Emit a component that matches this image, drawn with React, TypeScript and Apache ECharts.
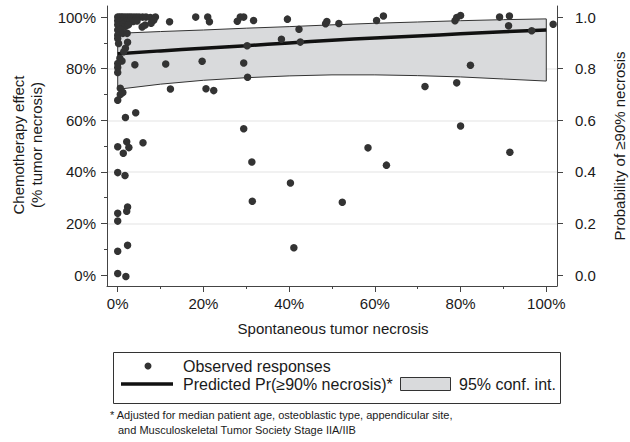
import React, { useEffect, useRef } from "react";
import * as echarts from "echarts";

// Observed responses: [spontaneous necrosis %, chemotherapy effect %]
const observed: number[][] = [
  [0, 100], [0.4, 100], [0.8, 100], [1.2, 100], [1.7, 100], [2.2, 100], [2.7, 100], [3.2, 100], [3.8, 100], [4.4, 100], [5.0, 100], [5.8, 100], [6.6, 100], [7.6, 99.8], [8.8, 100],
  [0, 98.6], [0.6, 98.4], [1.3, 98.6], [2.0, 98.4], [2.8, 98.6], [3.6, 98.3], [4.5, 98.5], [8.4, 98.8], [12.1, 98.2],
  [0, 97], [0.6, 96.6], [1.2, 97.2], [1.8, 96.4], [2.5, 97], [5.7, 96.2], [6.4, 96.9], [7.8, 97.6],
  [0, 95], [0.7, 95.2], [0, 93], [1.2, 93.7], [2.2, 93.7], [0, 91.7], [0.2, 89.8], [2.3, 90.2], [1.8, 87.9], [1.4, 86.6], [0.5, 84], [1, 83], [0, 82], [0, 80.5], [0, 78.5], [4, 81.5], [11.2, 81.8],
  [12.3, 72.1], [0.6, 72.4], [1.2, 70.8], [0.6, 70], [0, 67.8], [1.8, 61.1], [4.2, 62.9],
  [0, 49.7], [2.1, 51.7], [2.6, 49.4], [1.3, 47.2], [5.9, 51.3], [0, 39.7], [1.7, 38.6], [2.3, 26.4], [2.1, 24.7], [0, 23.9], [0, 20.9], [2.3, 11.5], [0, 9.2], [0, 0.6], [1.9, -0.6],
  [18.2, 100], [21, 100], [21.4, 98.2], [28.6, 100], [29.4, 100], [27.9, 98.4], [31.7, 98.7], [39.6, 99.2], [42.3, 95.3], [48.8, 98.3], [48.5, 97.4], [51.6, 97.5], [38.2, 91.4], [42.6, 90.3], [30.2, 88.9], [19.7, 82.9], [29.4, 82.2], [30.3, 76.7], [20.6, 72.2], [22.4, 71.5],
  [29.4, 56.7], [31.3, 43.8], [58.4, 49.3], [62.7, 42.6], [40.3, 35.7], [31.4, 28.6], [52.4, 28.2], [41.1, 10.6],
  [60.4, 98.7], [62, 100.4], [78.7, 98.6], [79.1, 99.8], [80, 100.6], [89.1, 100], [91.4, 100.4], [91.2, 96.6], [96.6, 94.7], [101.6, 97.2], [82.3, 81.3], [71.7, 73.1], [79.1, 74.5], [80, 57.8], [91.5, 47.6],
];

// Predicted probability curve (scaled to %), and its 95% CI
const curveX = [0, 10, 20, 30, 40, 50, 60, 70, 80, 90, 100];
const predicted = [85.8, 86.9, 87.9, 88.9, 90.0, 91.0, 91.9, 92.7, 93.5, 94.3, 95.0];
const ciUpper = [93.7, 94.4, 95.0, 95.7, 96.3, 97.0, 97.6, 98.1, 98.6, 99.0, 99.3];
const ciLower = [72.0, 74.0, 75.5, 76.5, 77.2, 77.6, 77.6, 77.3, 76.8, 76.0, 75.2];

const xTicks = [0, 20, 40, 60, 80, 100];
const yTicks = [0, 20, 40, 60, 80, 100];

const FONT = "Liberation Sans";
const TXT = "#1a1a1a";

export default function App() {
  const ref = useRef<HTMLDivElement>(null);
  useEffect(() => {
    if (!ref.current) return;
    const chart = echarts.init(ref.current, null, { renderer: "svg" });
    const yMin = -4.26;
    const yMax = 104.3;
    const bandPoly: number[][] = [
      ...curveX.map((x, i) => [x, ciUpper[i]]),
      ...curveX.map((x, i) => [x, ciLower[i]]).reverse(),
    ];
    const axisLineStyle = { color: "#444", width: 1 };
    chart.setOption({
      animation: false,
      grid: { left: 107, right: 73, top: 6, bottom: 156 },
      xAxis: {
        type: "value",
        min: -2.5,
        max: 102.5,
        splitNumber: 5,
        axisLine: { show: true, onZero: false, lineStyle: axisLineStyle },
        axisTick: { show: true, length: 6, lineStyle: { color: "#444" }, customValues: xTicks },
        minorTick: { show: true, splitNumber: 2, length: 3, lineStyle: { color: "#444" } },
        axisLabel: {
          customValues: xTicks,
          formatter: (v: number) => v + "%",
          fontFamily: FONT, fontSize: 15, color: TXT, margin: 10,
        },
        splitLine: { show: false },
      },
      yAxis: [
        {
          type: "value",
          min: yMin,
          max: yMax,
          splitNumber: 5,
          axisLine: { show: true, onZero: false, lineStyle: axisLineStyle },
          axisTick: { show: true, length: 6, lineStyle: { color: "#444" }, customValues: yTicks },
          minorTick: { show: true, splitNumber: 2, length: 3, lineStyle: { color: "#444" } },
          axisLabel: {
            customValues: yTicks,
            formatter: (v: number) => v + "%",
            fontFamily: FONT, fontSize: 15, color: TXT, margin: 11,
          },
          splitLine: { show: true, showMinLine: false, showMaxLine: false, lineStyle: { color: "#ececec", width: 1.5 } },
        },
        {
          type: "value",
          position: "right",
          min: yMin / 100,
          max: yMax / 100,
          splitNumber: 5,
          axisLine: { show: true, onZero: false, lineStyle: axisLineStyle },
          axisTick: { show: true, length: 6, lineStyle: { color: "#444" }, customValues: yTicks.map((v) => v / 100) },
          axisLabel: {
            customValues: yTicks.map((v) => v / 100),
            formatter: (v: number) => v.toFixed(1),
            fontFamily: FONT, fontSize: 15, color: TXT, margin: 18,
          },
          splitLine: { show: false },
        },
      ],
      series: [
        {
          type: "custom",
          z: 1,
          silent: true,
          data: [[0]],
          renderItem: (params: any, api: any) => ({
            type: "polygon",
            shape: { points: bandPoly.map((p) => api.coord(p)) },
            style: { fill: "#d9dadc", stroke: "#333", lineWidth: 1 },
          }),
        },
        {
          type: "line",
          z: 2,
          data: curveX.map((x, i) => [x, predicted[i]]),
          smooth: true,
          symbol: "none",
          lineStyle: { color: "#111", width: 3.5 },
        },
        {
          type: "scatter",
          z: 3,
          data: observed,
          symbol: "circle",
          symbolSize: 7.5,
          itemStyle: { color: "#333", opacity: 1 },
        },
      ],
      graphic: [
        {
          type: "text", x: 18, y: 145, rotation: Math.PI / 2,
          style: { text: "Chemotherapy effect", font: `15px "${FONT}"`, fill: TXT, align: "center", verticalAlign: "middle" },
        },
        {
          type: "text", x: 36, y: 145, rotation: Math.PI / 2,
          style: { text: "(% tumor necrosis)", font: `15px "${FONT}"`, fill: TXT, align: "center", verticalAlign: "middle" },
        },
        {
          type: "text", x: 619, y: 146, rotation: Math.PI / 2,
          style: { text: "Probability of \u226590% necrosis", font: `15px "${FONT}"`, fill: TXT, align: "center", verticalAlign: "middle" },
        },
        {
          type: "text", x: 333, y: 328,
          style: { text: "Spontaneous tumor necrosis", font: `15px "${FONT}"`, fill: TXT, align: "center", verticalAlign: "middle" },
        },
        {
          type: "rect", shape: { x: 113.5, y: 352.5, width: 447, height: 51 },
          style: { fill: "none", stroke: "#333", lineWidth: 1 },
        },
        { type: "circle", shape: { cx: 148, cy: 366, r: 3.5 }, style: { fill: "#333" } },
        {
          type: "text", x: 183, y: 366,
          style: { text: "Observed responses", font: `16px "${FONT}"`, fill: TXT, align: "left", verticalAlign: "middle" },
        },
        { type: "line", shape: { x1: 121, y1: 384, x2: 173, y2: 384 }, style: { stroke: "#111", lineWidth: 3.5 } },
        {
          type: "text", x: 183, y: 384,
          style: { text: "Predicted Pr(\u226590% necrosis)*", font: `16px "${FONT}"`, fill: TXT, align: "left", verticalAlign: "middle" },
        },
        {
          type: "rect", shape: { x: 400.5, y: 377.5, width: 50, height: 13 },
          style: { fill: "#d9dadc", stroke: "#333", lineWidth: 1 },
        },
        {
          type: "text", x: 459, y: 384,
          style: { text: "95% conf. int.", font: `16px "${FONT}"`, fill: TXT, align: "left", verticalAlign: "middle" },
        },
        {
          type: "text", x: 110, y: 415,
          style: { text: "* Adjusted for median patient age, osteoblastic type, appendicular site,", font: `11px "${FONT}"`, fill: TXT, align: "left", verticalAlign: "middle" },
        },
        {
          type: "text", x: 118, y: 430,
          style: { text: "and Musculoskeletal Tumor Society Stage IIA/IIB", font: `11px "${FONT}"`, fill: TXT, align: "left", verticalAlign: "middle" },
        },
      ],
    });
    return () => chart.dispose();
  }, []);
  return <div ref={ref} style={{ width: 630, height: 442, position: "absolute", left: 0, top: 0 }} />;
}
